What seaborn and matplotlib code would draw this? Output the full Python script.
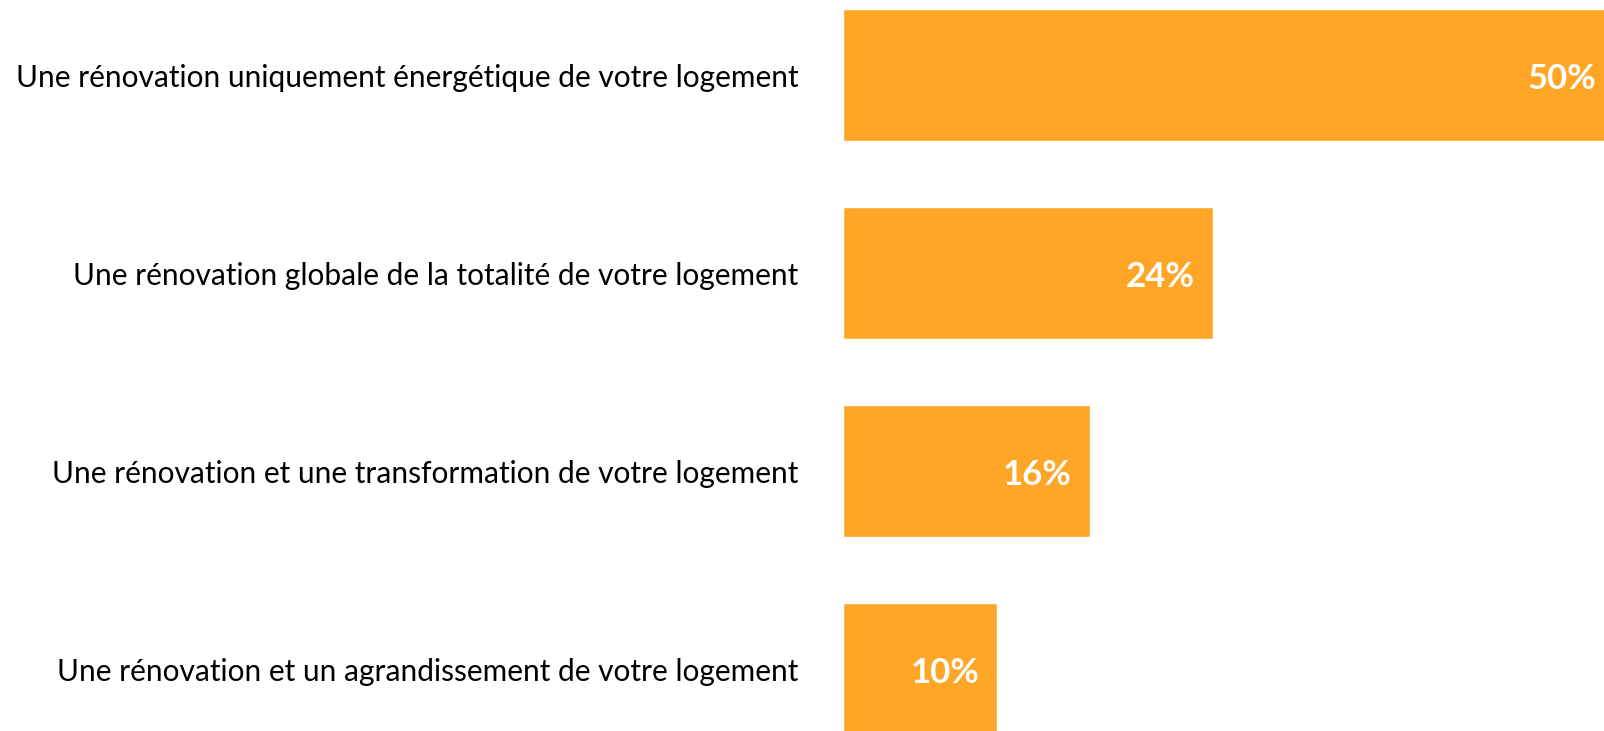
import matplotlib
matplotlib.use("Agg")
import matplotlib.pyplot as plt
import seaborn as sns
import pandas as pd

categories = [
    "Une rénovation uniquement énergétique de votre logement",
    "Une rénovation globale de la totalité de votre logement",
    "Une rénovation et une transformation de votre logement",
    "Une rénovation et un agrandissement de votre logement",
]
values = [50, 24, 16, 10]
value_labels = ["50%", "24%", "16%", "10%"]

df = pd.DataFrame({"cat": categories, "val": values})

sns.set_theme(style="white")
plt.rcParams["font.family"] = ["Lato", "DejaVu Sans"]

W, H = 1604, 731
fig = plt.figure(figsize=(W / 100, H / 100), dpi=100)
ax = fig.add_axes([843 / W, 0, (W - 843) / W, 1])

sns.barplot(data=df, x="val", y="cat", orient="h", color="#FFA626",
            saturation=1, width=132 / 198, ax=ax)

px_per_unit = 15.42
ax.set_xlim(0, (W - 843) / px_per_unit)
ax.set_ylim((H - 75) / 198, -75 / 198)

for s in ax.spines.values():
    s.set_visible(False)
ax.set_xticks([])
ax.set_xlabel("")
ax.set_ylabel("")
ax.tick_params(axis="y", length=0, pad=32, labelsize=21.5, labelcolor="#000000")

for p, lbl in zip(ax.patches, value_labels):
    ax.annotate(lbl, xy=(p.get_x() + p.get_width(), p.get_y() + p.get_height() / 2),
                xytext=(-13, -3), textcoords="offset points", ha="right", va="center",
                color="white", fontsize=25, fontweight="bold", annotation_clip=False)

fig.savefig("out.png", dpi=100, facecolor="white")
